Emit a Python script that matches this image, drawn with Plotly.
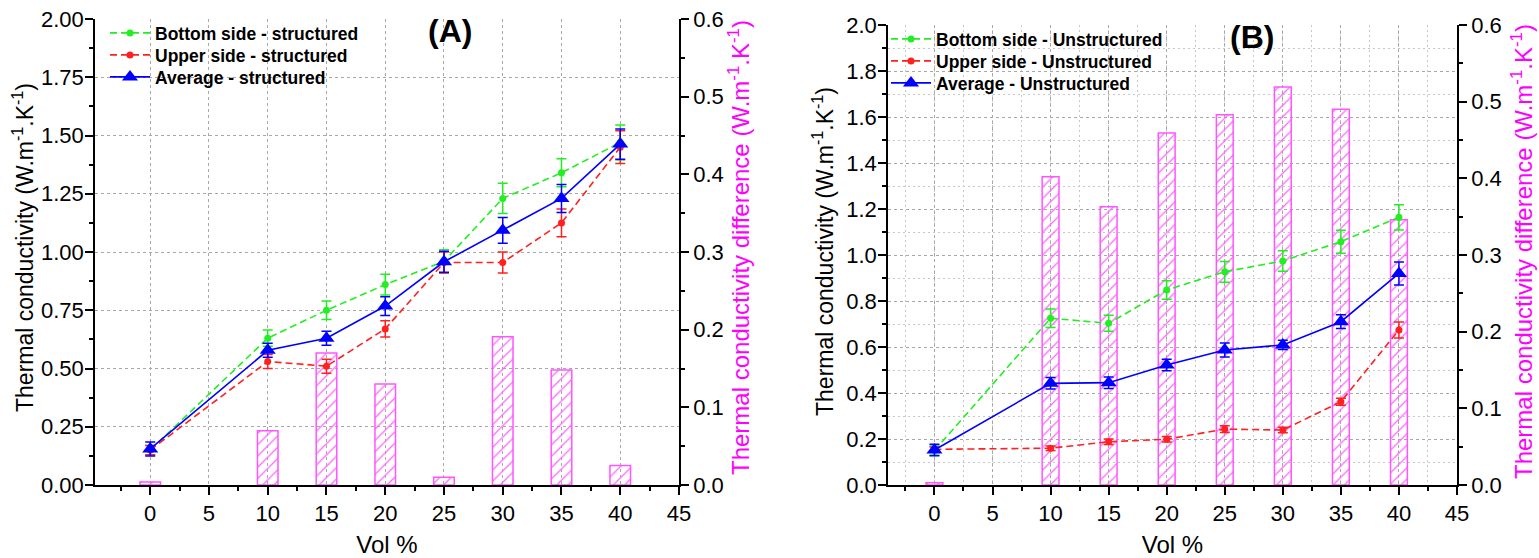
import plotly.graph_objects as go

# ---------------- data ----------------
vol = [0, 10, 15, 20, 25, 30, 35, 40]
tick_vals_x = [0, 5, 10, 15, 20, 25, 30, 35, 40, 45]
tick_text_x = ["0", "5", "10", "15", "20", "25", "30", "35", "40", "45"]

# Panel A - structured
a_bottom = [0.15, 0.63, 0.75, 0.86, 0.96, 1.23, 1.34, 1.47]
a_bottom_err = [0.02, 0.035, 0.04, 0.045, 0.05, 0.065, 0.06, 0.075]
a_upper = [0.15, 0.53, 0.51, 0.67, 0.955, 0.955, 1.125, 1.45]
a_upper_err = [0.02, 0.03, 0.03, 0.035, 0.045, 0.045, 0.06, 0.07]
a_avg = [0.155, 0.578, 0.63, 0.768, 0.958, 1.093, 1.23, 1.463]
a_avg_err = [0.03, 0.03, 0.03, 0.04, 0.045, 0.055, 0.06, 0.065]
a_diff = [0.004, 0.07, 0.17, 0.13, 0.01, 0.191, 0.148, 0.025]

# Panel B - unstructured
b_bottom = [0.15, 0.725, 0.703, 0.848, 0.927, 0.974, 1.058, 1.164]
b_bottom_err = [0.02, 0.04, 0.035, 0.04, 0.045, 0.045, 0.05, 0.055]
b_upper = [0.155, 0.16, 0.188, 0.199, 0.243, 0.239, 0.362, 0.674]
b_upper_err = [0.01, 0.01, 0.012, 0.012, 0.015, 0.012, 0.015, 0.035]
b_avg = [0.152, 0.442, 0.445, 0.522, 0.587, 0.609, 0.71, 0.92]
b_avg_err = [0.025, 0.025, 0.025, 0.025, 0.03, 0.02, 0.03, 0.05]
b_diff = [0.003, 0.402, 0.363, 0.459, 0.483, 0.519, 0.49, 0.346]

names_a = ["Bottom side - structured", "Upper side - structured", "Average - structured"]
names_b = ["Bottom side - Unstructured", "Upper side - Unstructured", "Average - Unstructured"]

FONT = "Liberation Sans, Arial, sans-serif"
MAG = "#ff00ff"
GREEN = "#22ee22"
RED = "#ff2020"
BLUE = "#0000ff"

W, H = 1539, 558
fig = go.Figure()


def add_panel(xa, ybar, yline, legends, bottom, bottom_err, upper, upper_err,
              avg, avg_err, diff, names, bar_width):
    fig.add_trace(go.Bar(
        x=vol, y=diff, xaxis=xa, yaxis=ybar, width=bar_width,
        marker=dict(color="rgba(255,255,255,0)",
                    line=dict(color="#ff55ff", width=1.5),
                    pattern=dict(shape="/", fgcolor="#ff66ff", bgcolor="rgba(255,255,255,0)",
                                 size=8, solidity=0.16)),
        showlegend=False, hoverinfo="skip"))
    specs = [
        (bottom, bottom_err, names[0], GREEN, "7px,4px", "circle", 7),
        (upper, upper_err, names[1], RED, "7px,4px", "circle", 7),
        (avg, avg_err, names[2], BLUE, "solid", "triangle-up", 14),
    ]
    for (vals, errs, nm, col, dash, sym, ms), lg in zip(specs, legends):
        fig.add_trace(go.Scatter(
            x=vol, y=vals, xaxis=xa, yaxis=yline, name=nm, legend=lg,
            mode="lines+markers",
            line=dict(color=col, width=1.6, dash=dash),
            marker=dict(color=col, symbol=sym, size=ms),
            error_y=dict(type="data", array=errs, visible=True, color=col,
                         thickness=1.5, width=5)))


add_panel("x", "y", "y2", ["legend", "legend2", "legend3"], a_bottom, a_bottom_err,
          a_upper, a_upper_err, a_avg, a_avg_err, a_diff, names_a, 1.75)
add_panel("x2", "y3", "y4", ["legend4", "legend5", "legend6"], b_bottom, b_bottom_err,
          b_upper, b_upper_err, b_avg, b_avg_err, b_diff, names_b, 1.45)

axis_common = dict(showline=True, linecolor="black", linewidth=1.5, ticks="outside",
                   ticklen=8, tickwidth=1.5, tickcolor="black", zeroline=False,
                   automargin=False,
                   tickfont=dict(family=FONT, size=22, color="black"))
grid_major = dict(gridcolor="#a8a8a8", griddash="3px,3px", gridwidth=1)
minor_grid = dict(showgrid=True, gridcolor="#c8c8c8", griddash="2px,3px", gridwidth=1)

title_font = dict(family=FONT, size=23, color="black")
mag_font = dict(family=FONT, size=24, color=MAG)
xtitle_font = dict(family=FONT, size=24, color="black")
ytitle = "Thermal conductivity (W.m<sup>-1</sup>.K<sup>-1</sup>)"
y2title = "Thermal conductivity difference (W.m<sup>-1</sup>.K<sup>-1</sup>)"

dom_a_x = [95 / W, 679 / W]
dom_b_x = [888 / W, 1457 / W]
dom_a_y = [(H - 485) / H, (H - 19) / H]
dom_b_y = [(H - 485) / H, (H - 25) / H]


def leg(xpx, ypx):
    return dict(x=xpx / W, y=(H - ypx) / H, xanchor="left", yanchor="middle",
                bgcolor="rgba(0,0,0,0)", itemwidth=40,
                font=dict(family=FONT, size=17.5, color="black", weight="bold"))


def vtitle(text, xpx, ypx, font):
    return dict(text=text, x=xpx / W, y=(H - ypx) / H, xref="paper", yref="paper",
                xanchor="center", yanchor="middle", textangle=-90,
                showarrow=False, font=font)


fig.update_layout(
    template="none",
    width=W, height=H, margin=dict(l=0, r=0, t=0, b=0, autoexpand=False),
    plot_bgcolor="white", paper_bgcolor="white",
    font=dict(family=FONT, color="black"),
    barmode="overlay",
    # Panel A
    xaxis=dict(domain=dom_a_x, anchor="y", range=[-4.7, 45], tickvals=tick_vals_x,
               ticktext=tick_text_x, showgrid=True, **grid_major,
               minor=dict(dtick=2.5, tick0=0, ticks="outside", ticklen=4, tickcolor="black", showgrid=False),
               title=dict(text="Vol %", font=xtitle_font, standoff=14),
               **axis_common),
    yaxis=dict(domain=dom_a_y, anchor="x", side="right", range=[0, 0.6], dtick=0.1,
               tickformat=".1f", showgrid=False,
               minor=dict(dtick=0.05, ticks="outside", ticklen=4, tickcolor="black"),
               **axis_common),
    yaxis2=dict(domain=dom_a_y, anchor="x", overlaying="y", side="left", range=[0, 2.0],
                dtick=0.25, tickformat=".2f", showgrid=True, **grid_major,
                minor=dict(dtick=0.125, ticks="outside", ticklen=4, tickcolor="black", showgrid=False),
                ticklabelstandoff=-3,
                **axis_common),
    # Panel B
    xaxis2=dict(domain=dom_b_x, anchor="y3", range=[-4, 45], tickvals=tick_vals_x,
                ticktext=tick_text_x, showgrid=True, **grid_major,
                minor=dict(dtick=2.5, tick0=0, ticks="outside", ticklen=4, tickcolor="black",
                           **minor_grid),
                title=dict(text="Vol %", font=xtitle_font, standoff=14),
                **axis_common),
    yaxis3=dict(domain=dom_b_y, anchor="x2", side="right", range=[0, 0.6], dtick=0.1,
                tickformat=".1f", showgrid=False,
                minor=dict(dtick=0.05, ticks="outside", ticklen=4, tickcolor="black"),
                **axis_common),
    yaxis4=dict(domain=dom_b_y, anchor="x2", overlaying="y3", side="left", range=[0, 2.0],
                dtick=0.2, tickformat=".1f", showgrid=True, **grid_major,
                minor=dict(dtick=0.1, ticks="outside", ticklen=4, tickcolor="black",
                           **minor_grid),
                ticklabelstandoff=-3,
                **axis_common),
    legend=leg(105, 33), legend2=leg(105, 55), legend3=leg(105, 77),
    legend4=leg(886, 39), legend5=leg(886, 61), legend6=leg(886, 83),
    annotations=[
        dict(text="<b>(A)</b>", x=450 / W, y=(H - 31) / H, xref="paper", yref="paper",
             xanchor="center", yanchor="middle",
             showarrow=False, font=dict(family=FONT, size=32, color="black")),
        dict(text="<b>(B)</b>", x=1252 / W, y=(H - 37) / H, xref="paper", yref="paper",
             xanchor="center", yanchor="middle",
             showarrow=False, font=dict(family=FONT, size=32, color="black")),
        vtitle(ytitle, 23, 248, title_font),
        vtitle(y2title, 739, 248, mag_font),
        vtitle(ytitle, 823, 252, title_font),
        vtitle(y2title, 1522, 252, mag_font),
    ],
)

fig.write_html("out.html")
